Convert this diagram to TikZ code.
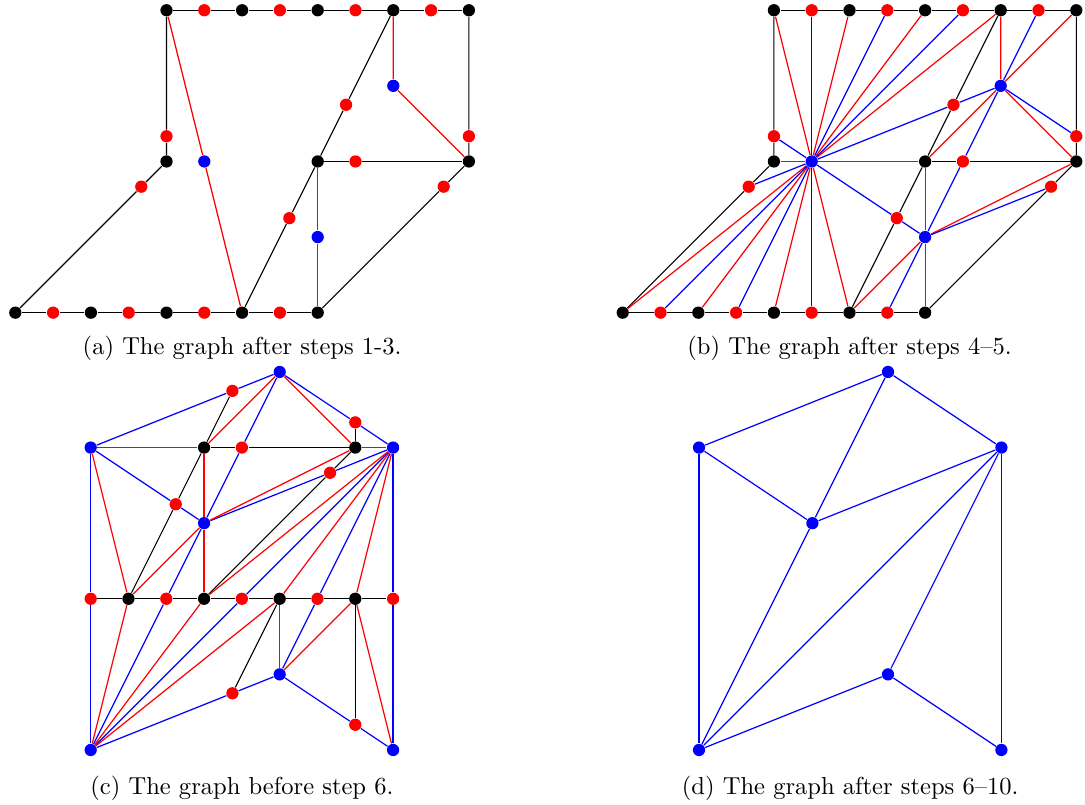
\documentclass[tikz,border=0pt]{standalone}
\pgfdeclarelayer{bg}
\pgfsetlayers{bg,main}
\tikzset{
  vdot/.style={circle,inner sep=0pt,minimum size=5pt,draw=none},
  bk/.style={vdot,fill=black},
  rd/.style={vdot,fill=red},
  bu/.style={vdot,fill=blue},
  eb/.style={draw=black,line width=0.45pt},
  er/.style={draw=red,line width=0.5pt},
  eu/.style={draw=blue,line width=0.5pt},
  captxt/.style={anchor=base,inner sep=0pt}
}
\newcommand\ABnodes[1]{%
  \foreach \i in {0,2,4,6,8} {\node[bk] (#1p\i) at (\i,0) {};}
  \foreach \i in {1,3,5,7} {\node[rd] (#1p\i) at (\i,0) {};}
  \foreach \i in {4,6,8,10,12} {\node[bk] (#1t\i) at (\i,8) {};}
  \foreach \i in {5,7,9,11} {\node[rd] (#1t\i) at (\i,8) {};}
  \node[bk] (#1m4) at (4,4) {};
  \node[bk] (#1m8) at (8,4) {};
  \node[bk] (#1m12) at (12,4) {};
  \node[rd] (#1m9) at (9,4) {};
  \node[bu] (#1B) at (5,4) {};
  \node[bu] (#1C) at (10,6) {};
  \node[bu] (#1D) at (8,2) {};
  \node[rd] (#1rL) at (4,4.667) {};
  \node[rd] (#1rD) at (3.333,3.333) {};
  \node[rd] (#1rR) at (12,4.667) {};
  \node[rd] (#1rRD) at (11.333,3.333) {};
  \node[rd] (#1rU) at (8.75,5.5) {};
  \node[rd] (#1rW) at (7.25,2.5) {};
}
\newcommand\ABedges[1]{%
  \draw[eb] (#1p0)--(#1p1)--(#1p2)--(#1p3)--(#1p4)--(#1p5)--(#1p6)--(#1p7)--(#1p8);
  \draw[eb] (#1t4)--(#1t5)--(#1t6)--(#1t7)--(#1t8)--(#1t9)--(#1t10)--(#1t11)--(#1t12);
  \draw[eb] (#1t4)--(#1rL)--(#1m4)--(#1rD)--(#1p0);
  \draw[eb] (#1t12)--(#1rR)--(#1m12)--(#1rRD)--(#1p8);
  \draw[eb] (#1m8)--(#1m9)--(#1m12);
  \draw[eb] (#1t10)--(#1rU)--(#1m8)--(#1rW)--(#1p6);
  \draw[er] (#1t4)--(#1B)--(#1p6);
  \draw[er] (#1t10)--(#1C)--(#1m12);
  \draw[er] (#1m8)--(#1D)--(#1p8);
}
\begin{document}
\begin{tikzpicture}[x=15.4pt,y=15.4pt]
\useasboundingbox (0,0) rectangle (28.704,21.296);
% ---------- (a)
\begin{scope}[shift={(0.405,13.024)}]
  \ABnodes{a-}
  \begin{pgfonlayer}{bg}
    \ABedges{a-}
  \end{pgfonlayer}
  \node[captxt] (capa) at (6,-1.119) {(a) The graph after steps 1-3.};
\end{scope}
% ---------- (b)
\begin{scope}[shift={(16.474,13.024)}]
  \ABnodes{b-}
  \begin{pgfonlayer}{bg}
    \ABedges{b-}
    \foreach \n in {m4,m8,t6,t8,t10,p0,p2,p4} {\draw[er] (b-B)--(b-\n);}
    \foreach \n in {t5,t7,t9,rL,rU,rD,p1,p3,p5,rW} {\draw[eu] (b-B)--(b-\n);}
    \draw[eu] (b-rU)--(b-C);
    \draw[eu] (b-rW)--(b-D);
    \draw[er] (b-C)--(b-t12);
    \draw[er] (b-C)--(b-m8);
    \draw[er] (b-D)--(b-p6);
    \draw[er] (b-D)--(b-m12);
    \draw[eu] (b-C)--(b-t11);
    \draw[eu] (b-C)--(b-rR);
    \draw[eu] (b-C)--(b-m9)--(b-D);
    \draw[eu] (b-D)--(b-p7);
    \draw[eu] (b-D)--(b-rRD);
  \end{pgfonlayer}
  \node[captxt] (capb) at (6,-1.119) {(b) The graph after steps 4--5.};
\end{scope}
% ---------- (c)
\begin{scope}[shift={(2.399,1.455)}]
  \node[bu] (c-T) at (5,10) {};
  \node[rd] (c-rTL) at (3.75,9.5) {};
  \node[rd] (c-rTR) at (7,8.667) {};
  \node[bu] (c-L) at (0,8) {};
  \node[bk] (c-k3) at (3,8) {};
  \node[rd] (c-r4) at (4,8) {};
  \node[bk] (c-k7) at (7,8) {};
  \node[bu] (c-R) at (8,8) {};
  \node[rd] (c-rA) at (6.333,7.333) {};
  \node[rd] (c-rB) at (2.25,6.5) {};
  \node[bu] (c-M) at (3,6) {};
  \foreach \i in {0,2,4,6,8} {\node[rd] (c-s\i) at (\i,4) {};}
  \foreach \i in {1,3,5,7} {\node[bk] (c-s\i) at (\i,4) {};}
  \node[bu] (c-D) at (5,2) {};
  \node[rd] (c-rC) at (3.75,1.5) {};
  \node[rd] (c-rE) at (7,0.667) {};
  \node[bu] (c-BL) at (0,0) {};
  \node[bu] (c-BR) at (8,0) {};
  \begin{pgfonlayer}{bg}
    % black
    \draw[eb] (c-k3)--(c-rTL);
    \draw[eb] (c-k3)--(c-rB)--(c-s1);
    \draw[eb] (c-k3)--(c-r4)--(c-k7);
    \draw[eb] (c-k7)--(c-rTR);
    \draw[eb] (c-k7)--(c-rA)--(c-s3);
    \draw[eb] (c-s0)--(c-s1)--(c-s2)--(c-s3)--(c-s4)--(c-s5)--(c-s6)--(c-s7)--(c-s8);
    \draw[eb] (c-s5)--(c-rC);
    \draw[eb] (c-s7)--(c-rE);
    % blue
    \draw[eu] (c-T)--(c-rTL)--(c-L);
    \draw[eu] (c-T)--(c-rTR)--(c-R);
    \draw[eu] (c-T)--(c-r4)--(c-M);
    \draw[eu] (c-L)--(c-rB)--(c-M);
    \draw[eu] (c-L)--(c-s0)--(c-BL);
    \draw[eu] (c-M)--(c-s2)--(c-BL);
    \draw[eu] (c-M)--(c-rA)--(c-R);
    \draw[eu] (c-R)--(c-s4)--(c-BL);
    \draw[eu] (c-R)--(c-s6)--(c-D);
    \draw[eu] (c-R)--(c-s8)--(c-BR);
    \draw[eu] (c-D)--(c-rC)--(c-BL);
    \draw[eu] (c-D)--(c-rE)--(c-BR);
    % red
    \draw[er] (c-T)--(c-k3);
    \draw[er] (c-T)--(c-k7);
    \draw[er] (c-L)--(c-k3);
    \draw[er] (c-k7)--(c-R);
    \draw[er] (c-L)--(c-s1);
    \draw[er] (c-k3)--(c-M)--(c-s3);
    \draw[er] (c-M)--(c-s1);
    \draw[er] (c-M)--(c-k7);
    \draw[er] (c-R)--(c-s3);
    \draw[er] (c-R)--(c-s5);
    \draw[er] (c-R)--(c-s7);
    \draw[er] (c-s7)--(c-BR);
    \draw[er] (c-s7)--(c-D);
    \draw[er] (c-s5)--(c-D);
    \draw[er] (c-BL)--(c-s1);
    \draw[er] (c-BL)--(c-s3);
    \draw[er] (c-BL)--(c-s5);
  \end{pgfonlayer}
  \node[captxt] (capc) at (4,-1.19) {(c) The graph before step 6.};
\end{scope}
% ---------- (d)
\begin{scope}[shift={(18.492,1.455)}]
  \node[bu] (d-T) at (5,10) {};
  \node[bu] (d-L) at (0,8) {};
  \node[bu] (d-R) at (8,8) {};
  \node[bu] (d-M) at (3,6) {};
  \node[bu] (d-D) at (5,2) {};
  \node[bu] (d-BL) at (0,0) {};
  \node[bu] (d-BR) at (8,0) {};
  \begin{pgfonlayer}{bg}
    \draw[eu] (d-T)--(d-L);
    \draw[eu] (d-T)--(d-M);
    \draw[eu] (d-T)--(d-R);
    \draw[eu] (d-L)--(d-M);
    \draw[eu] (d-L)--(d-BL);
    \draw[eu] (d-M)--(d-R);
    \draw[eu] (d-M)--(d-BL);
    \draw[eu] (d-R)--(d-BL);
    \draw[eu] (d-R)--(d-D);
    \draw[eu] (d-R)--(d-BR);
    \draw[eu] (d-D)--(d-BL);
    \draw[eu] (d-D)--(d-BR);
  \end{pgfonlayer}
  \node[captxt] (capd) at (4,-1.19) {(d) The graph after steps 6--10.};
\end{scope}
\end{tikzpicture}
\end{document}
